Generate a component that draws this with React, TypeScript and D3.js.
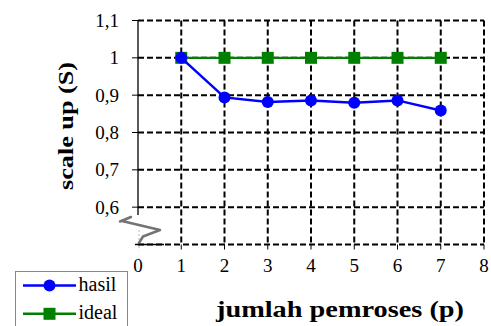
import React from "react";
import * as d3 from "d3";

const processors = [1, 2, 3, 4, 5, 6, 7];
const hasil = [1.0, 0.894, 0.882, 0.886, 0.88, 0.886, 0.859];
const ideal = [1, 1, 1, 1, 1, 1, 1];
const xTicks = [0, 1, 2, 3, 4, 5, 6, 7, 8];
const yTicks = [0.6, 0.7, 0.8, 0.9, 1.0, 1.1];
const yTickLabels = ["0,6", "0,7", "0,8", "0,9", "1", "1,1"];
const seriesNames = ["hasil", "ideal"];

const W = 491;
const H = 326;
const L = 138;
const R = 484;
const T = 20.5;
const B = 244.5;

export default function App() {
  const x = d3.scaleLinear().domain([0, 8]).range([L, R]);
  const y = d3.scaleLinear().domain([0.5, 1.1]).range([B, T]);
  const line = d3
    .line<number>()
    .x((_, i) => x(processors[i]))
    .y((d) => y(d));
  const font = "Liberation Serif, Times New Roman, Times, serif";
  const dash = "6 3";
  const blue = "#0000ff";
  const green = "#008000";
  const gridY = [0.5, ...yTicks];
  return (
    <svg
      width={W}
      height={H}
      style={{ position: "fixed", left: 0, top: 0, background: "#fff", fontFamily: font }}
    >
      <defs>
        <filter id="blur" x="-20%" y="-20%" width="140%" height="140%">
          <feGaussianBlur stdDeviation="0.7" />
        </filter>
      </defs>
      <rect x={0} y={0} width={W} height={H} fill="#fff" />
      {gridY.map((v) => (
        <line
          key={"h" + v}
          x1={L}
          x2={R}
          y1={y(v)}
          y2={y(v)}
          stroke="#000"
          strokeWidth={2}
          strokeDasharray={dash}
        />
      ))}
      {xTicks.slice(1).map((v) => (
        <line
          key={"v" + v}
          x1={x(v)}
          x2={x(v)}
          y1={T}
          y2={B}
          stroke="#000"
          strokeWidth={2}
          strokeDasharray={dash}
        />
      ))}
      {xTicks.slice(1).map((v) => (
        <line key={"xt" + v} x1={x(v)} x2={x(v)} y1={B} y2={B + 5} stroke="#000" strokeWidth={1} />
      ))}
      <line x1={L} x2={L} y1={T} y2={215} stroke="#000" strokeWidth={1.3} />
      <line x1={L + 1} x2={L + 1} y1={230} y2={262} stroke="#bbb" strokeWidth={1} strokeDasharray="2 2" />
      {yTicks.map((v) => (
        <line key={"yt" + v} x1={L - 6} x2={L} y1={y(v)} y2={y(v)} stroke="#000" strokeWidth={1} />
      ))}
      <line x1={L - 3} x2={L + 26} y1={B} y2={B} stroke="#000" strokeWidth={1.5} />
      <path
        d="M120,221.5 L131,217 M122,221 L160,230 L143,236.5 L139,243"
        fill="none"
        stroke="#444"
        strokeWidth={2.5}
        strokeOpacity={0.75}
        strokeLinejoin="round"
        strokeLinecap="round"
        filter="url(#blur)"
      />
      {yTicks.map((v, i) => (
        <text
          key={"yl" + v}
          x={119}
          y={y(v)}
          dy="0.35em"
          textAnchor="end"
          fontSize={19}
          fill="#000"
        >
          {yTickLabels[i]}
        </text>
      ))}
      {xTicks.map((v) => (
        <text key={"xl" + v} x={x(v)} y={272} textAnchor="middle" fontSize={19} fill="#000">
          {v}
        </text>
      ))}
      <rect x={128} y={248} width={20} height={9} fill="#fff" fillOpacity={0.85} />
      <path d={line(ideal) || ""} fill="none" stroke={green} strokeWidth={2.2} />
      {ideal.map((v, i) => (
        <rect
          key={"is" + i}
          x={x(processors[i]) - 6}
          y={y(v) - 6}
          width={12}
          height={12}
          fill={green}
        />
      ))}
      <path d={line(hasil) || ""} fill="none" stroke={blue} strokeWidth={2.5} />
      {hasil.map((v, i) => (
        <circle key={"hc" + i} cx={x(processors[i])} cy={y(v)} r={6} fill={blue} />
      ))}
      <text
        transform="translate(73,126) rotate(-90)"
        textAnchor="middle"
        fontSize={22}
        fontWeight="bold"
        textLength={128}
        lengthAdjust="spacingAndGlyphs"
        fill="#000"
      >
        scale up (S)
      </text>
      <text
        x={340}
        y={316.5}
        textAnchor="middle"
        fontSize={23}
        fontWeight="bold"
        textLength={248}
        lengthAdjust="spacingAndGlyphs"
        fill="#000"
      >
        jumlah pemroses (p)
      </text>
      <rect x={15.5} y={271.5} width={112} height={60} fill="#fff" stroke="#888" strokeWidth={1} />
      {seriesNames.map((name, i) => {
        const ly = 285.5 + i * 28.3;
        const c = i === 0 ? blue : green;
        return (
          <g key={name}>
            <line x1={23} x2={76} y1={ly} y2={ly} stroke={c} strokeWidth={2.5} />
            {i === 0 ? (
              <circle cx={49.5} cy={ly} r={6} fill={c} />
            ) : (
              <rect x={43.5} y={ly - 6} width={12} height={12} fill={c} />
            )}
            <text x={78.5} y={ly + 5.5} fontSize={20} fill="#000">
              {name}
            </text>
          </g>
        );
      })}
    </svg>
  );
}
